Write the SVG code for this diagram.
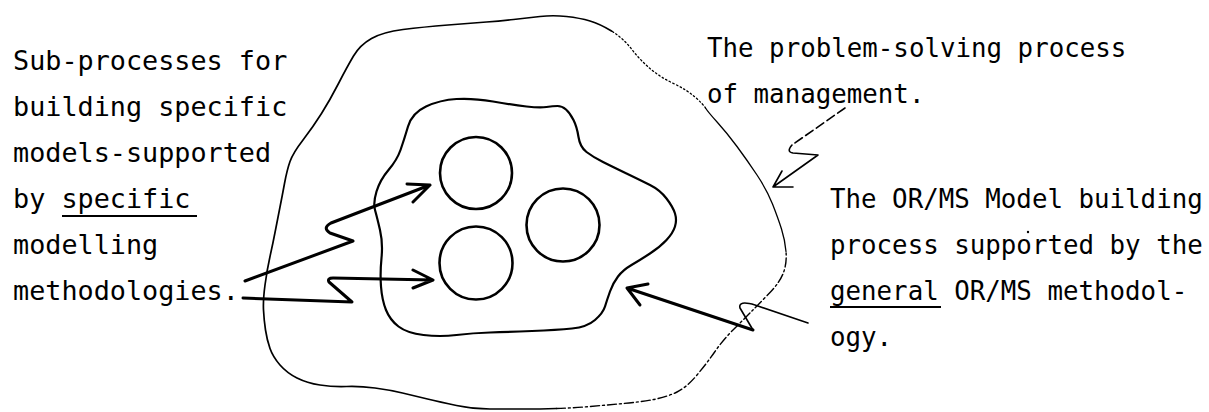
<svg xmlns="http://www.w3.org/2000/svg" width="1209" height="412" viewBox="0 0 1209 412">
<style>
.t{font-family:"DejaVu Sans Mono","Liberation Mono",monospace;fill:#000}
.tl{font-size:26.8px}
.tr{font-size:25.8px}
.blob{fill:none;stroke:#000;stroke-linejoin:round;stroke-linecap:round}
.outer{stroke-width:1.7}
.thinline{stroke-width:1.3}
.dot{stroke-width:1.3;stroke-dasharray:1.5 2.5}
.dash{stroke-width:1.4;stroke-dasharray:9 3 2 3}
.inner{stroke-width:2.2}
.circ{fill:none;stroke:#000;stroke-width:2.6}
.arr{fill:none;stroke:#000;stroke-width:3;stroke-linejoin:round;stroke-linecap:round}
.thin{fill:none;stroke:#000;stroke-width:1.6;stroke-linejoin:round;stroke-linecap:round}
.ul{stroke:#000;stroke-width:2}
</style>
<rect width="1209" height="412" fill="#fff"/>
<g id="outer-region">
<path class="blob outer" d="M611.5,31 Q600,24 590,21 Q580,18 566.5,16.5 Q553,15 540,16.5 Q527,18 513.5,19.5 Q500,21 486.5,22 Q473,23 448,25 Q423,27 403,29.5 Q383,32 371.5,38.5 Q360,45 353.5,56 Q347,67 338.5,83.5 Q330,100 321.5,113.5 Q313,127 303,140 Q293,153 290,161.5 Q287,170 284.5,183.5 Q282,197 280,207 Q278,217 275.5,230 Q273,243 270,256.5 Q267,270 265,285 Q263,300 263.5,310 Q264,320 265.5,330 Q267,340 270,348.5 Q273,357 280,365 Q287,373 297,378 Q307,383 320,385 Q333,387 346.5,386.5 Q360,386 375,388 Q390,390 402.5,393 Q415,396 427.5,399 Q440,402 456.5,405.5 Q473,409 490,409 Q507,409 523.5,409 Q540,409 556.5,408.5"/>
<path class="blob dash" d="M556.5,408.5 Q573,408 590,406.5 Q607,405 623.5,403.5 Q640,402 653.5,399.5 Q667,397 677,392 Q687,387 697,375 Q707,363 715,351.5 Q723,340 733,330 Q743,320 751.5,311.5 Q760,303 770,292.5 Q780,282 783.5,272.5 Q787,263 786,251.5"/>
<path class="blob thinline" d="M786,251.5 Q785,240 781.5,229 Q778,218 772.5,204 Q767,190 757,175 Q747,160 737,146.5 Q727,133 717.5,122.5 Q708,112 705.5,108"/>
<path class="blob dot" d="M705.5,108 Q703,104 695,97 Q687,90 673.5,83.5 Q660,77 650,68.5 Q640,60 631.5,49 Q623,38 611.5,31"/>
</g>
<g id="inner-region">
<path class="blob inner" d="M426,106.5 Q440,100 456.5,99 Q473,98 493,101.5 Q513,105 526.5,106.5 Q540,108 546.5,107 Q553,106 557.5,106 Q562,106 566,109.5 Q570,113 573.5,120 Q577,127 578.5,137 Q580,147 586.5,152 Q593,157 603,162 Q613,167 626.5,173.5 Q640,180 650,185 Q660,190 666.5,198.5 Q673,207 675,213.5 Q677,220 675,226.5 Q673,233 666.5,240 Q660,247 650,253.5 Q640,260 631.5,265 Q623,270 618,276.5 Q613,283 610,291.5 Q607,300 605,306.5 Q603,313 595,320 Q587,327 572,328.5 Q557,330 532,331 Q507,332 490,332.5 Q473,333 456.5,335 Q440,337 423.5,335 Q407,333 398.5,326.5 Q390,320 386,310 Q382,300 381,286.5 Q380,273 381.5,258 Q383,243 380,230 Q377,217 375,210 Q373,203 376.5,191.5 Q380,180 388.5,170 Q397,160 400.5,150 Q404,140 408,126.5 Q412,113 426,106.5 Z"/>
</g>
<g id="circle-1"><circle class="circ" cx="476" cy="173" r="36"/></g>
<g id="circle-2"><circle class="circ" cx="476" cy="263" r="36.5"/></g>
<g id="circle-3"><circle class="circ" cx="563" cy="225" r="36.5"/></g>
<g id="connectors">
<path class="arr" d="M245,281 L353,241 L330,233 Q322,228 331,223 L430,185 M407,184 L430,185 L413,202"/>
<path class="arr" d="M243,298 L352,302 L329,282 Q327,278 333,278 L433,280 M413,270 L433,280 L413,288"/>
<path class="thin" stroke-dasharray="9 4" d="M845,108 L792,145"/>
<path class="thin" d="M792,145 Q786,152 793,153 L818,155 L773,187 M782,171 L773,187 L793,187"/>
<path class="thin" d="M808,323 L755,305 Q738,300 740,308 L753,330"/>
<path class="arr" d="M753,330 L627,288 M648,284 L627,288 L640,305"/>
</g>
<g id="label-left">
<text class="t tl" x="13" y="70">Sub-processes for</text>
<text class="t tl" x="13" y="116">building specific</text>
<text class="t tl" x="13" y="162">models-supported</text>
<text class="t tl" x="13" y="208">by specific</text>
<text class="t tl" x="13" y="254">modelling</text>
<text class="t tl" x="13" y="300">methodologies.</text>
<line class="ul" x1="62" y1="216" x2="197" y2="216"/>
</g>
<g id="label-top-right">
<text class="t tr" x="707" y="57">The problem-solving process</text>
<text class="t tr" x="707" y="103">of management.</text>
</g>
<g id="label-bottom-right">
<text class="t tr" x="830" y="208">The OR/MS Model building</text>
<text class="t tr" x="830" y="254">process supported by the</text>
<text class="t tr" x="830" y="300">general OR/MS methodol-</text>
<text class="t tr" x="830" y="346">ogy.</text>
<line class="ul" x1="830" y1="307" x2="941" y2="307"/>
<circle cx="1028" cy="232" r="1.2" fill="#000"/>
</g>
</svg>
